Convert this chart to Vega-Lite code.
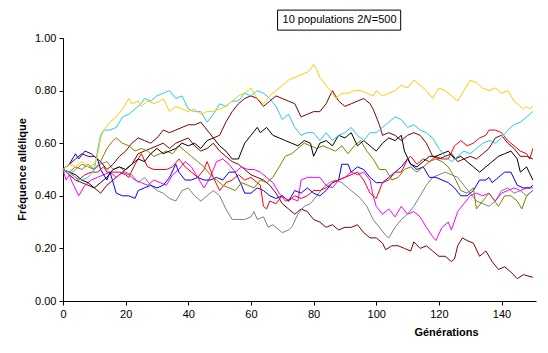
{
  "$schema": "https://vega.github.io/schema/vega-lite/v6.json",
  "width": 473,
  "height": 263,
  "autosize": {"type": "none"},
  "padding": {"left": 63, "top": 38, "right": 12, "bottom": 52},
  "background": "white",
  "config": {
    "view": {"stroke": null},
    "font": "Liberation Sans",
    "axis": {"labelFont": "Liberation Sans", "labelFontSize": 11, "labelColor": "black", "domainColor": "black", "tickColor": "black", "grid": false, "titleFont": "Liberation Sans", "titleFontSize": 11, "titleFontWeight": "bold", "titleColor": "black"}
  },
  "datasets": {
    "series": [
{"s":"p01","g":0,"v":0.50},{"s":"p01","g":2,"v":0.48},{"s":"p01","g":4,"v":0.46},{"s":"p01","g":6,"v":0.45},{"s":"p01","g":8,"v":0.44},{"s":"p01","g":10,"v":0.43},{"s":"p01","g":12,"v":0.41},{"s":"p01","g":14,"v":0.44},{"s":"p01","g":16,"v":0.46},{"s":"p01","g":18,"v":0.48},{"s":"p01","g":20,"v":0.50},{"s":"p01","g":22,"v":0.52},{"s":"p01","g":24,"v":0.56},{"s":"p01","g":26,"v":0.57},{"s":"p01","g":28,"v":0.58},{"s":"p01","g":30,"v":0.59},{"s":"p01","g":32,"v":0.60},{"s":"p01","g":34,"v":0.58},{"s":"p01","g":36,"v":0.60},{"s":"p01","g":38,"v":0.61},{"s":"p01","g":40,"v":0.62},{"s":"p01","g":42,"v":0.59},{"s":"p01","g":44,"v":0.57},{"s":"p01","g":46,"v":0.58},{"s":"p01","g":48,"v":0.60},{"s":"p01","g":50,"v":0.57},{"s":"p01","g":52,"v":0.55},{"s":"p01","g":54,"v":0.53},{"s":"p01","g":56,"v":0.52},{"s":"p01","g":58,"v":0.50},{"s":"p01","g":60,"v":0.48},{"s":"p01","g":62,"v":0.47},{"s":"p01","g":64,"v":0.46},{"s":"p01","g":66,"v":0.44},{"s":"p01","g":68,"v":0.41},{"s":"p01","g":70,"v":0.37},{"s":"p01","g":72,"v":0.35},{"s":"p01","g":74,"v":0.33},{"s":"p01","g":76,"v":0.35},{"s":"p01","g":78,"v":0.34},{"s":"p01","g":80,"v":0.31},{"s":"p01","g":82,"v":0.30},{"s":"p01","g":84,"v":0.28},{"s":"p01","g":86,"v":0.29},{"s":"p01","g":88,"v":0.27},{"s":"p01","g":90,"v":0.28},{"s":"p01","g":92,"v":0.28},{"s":"p01","g":94,"v":0.29},{"s":"p01","g":96,"v":0.26},{"s":"p01","g":98,"v":0.24},{"s":"p01","g":100,"v":0.24},{"s":"p01","g":102,"v":0.22},{"s":"p01","g":103,"v":0.195},{"s":"p01","g":105,"v":0.21},{"s":"p01","g":107,"v":0.21},{"s":"p01","g":109,"v":0.20},{"s":"p01","g":111,"v":0.19},{"s":"p01","g":112,"v":0.225},{"s":"p01","g":114,"v":0.20},{"s":"p01","g":116,"v":0.21},{"s":"p01","g":118,"v":0.19},{"s":"p01","g":120,"v":0.17},{"s":"p01","g":122,"v":0.17},{"s":"p01","g":124,"v":0.15},{"s":"p01","g":125,"v":0.16},{"s":"p01","g":126,"v":0.21},{"s":"p01","g":127.5,"v":0.24},{"s":"p01","g":129,"v":0.23},{"s":"p01","g":131,"v":0.22},{"s":"p01","g":133,"v":0.17},{"s":"p01","g":135,"v":0.19},{"s":"p01","g":137,"v":0.15},{"s":"p01","g":139,"v":0.12},{"s":"p01","g":141,"v":0.13},{"s":"p01","g":143,"v":0.11},{"s":"p01","g":145,"v":0.085},{"s":"p01","g":147,"v":0.10},{"s":"p01","g":150,"v":0.09},
{"s":"p02","g":0,"v":0.50},{"s":"p02","g":2,"v":0.48},{"s":"p02","g":4,"v":0.50},{"s":"p02","g":6,"v":0.52},{"s":"p02","g":8,"v":0.51},{"s":"p02","g":10,"v":0.50},{"s":"p02","g":12,"v":0.52},{"s":"p02","g":14,"v":0.53},{"s":"p02","g":16,"v":0.50},{"s":"p02","g":18,"v":0.51},{"s":"p02","g":20,"v":0.49},{"s":"p02","g":22,"v":0.48},{"s":"p02","g":24,"v":0.45},{"s":"p02","g":26,"v":0.47},{"s":"p02","g":28,"v":0.44},{"s":"p02","g":30,"v":0.42},{"s":"p02","g":32,"v":0.41},{"s":"p02","g":34,"v":0.39},{"s":"p02","g":36,"v":0.38},{"s":"p02","g":38,"v":0.42},{"s":"p02","g":40,"v":0.43},{"s":"p02","g":42,"v":0.40},{"s":"p02","g":44,"v":0.38},{"s":"p02","g":46,"v":0.40},{"s":"p02","g":48,"v":0.42},{"s":"p02","g":50,"v":0.40},{"s":"p02","g":52,"v":0.35},{"s":"p02","g":54,"v":0.31},{"s":"p02","g":56,"v":0.31},{"s":"p02","g":58,"v":0.31},{"s":"p02","g":60,"v":0.32},{"s":"p02","g":61,"v":0.34},{"s":"p02","g":62,"v":0.31},{"s":"p02","g":64,"v":0.32},{"s":"p02","g":65.5,"v":0.28},{"s":"p02","g":67,"v":0.29},{"s":"p02","g":69,"v":0.27},{"s":"p02","g":70,"v":0.26},{"s":"p02","g":72,"v":0.27},{"s":"p02","g":73,"v":0.28},{"s":"p02","g":75,"v":0.33},{"s":"p02","g":77,"v":0.36},{"s":"p02","g":79,"v":0.37},{"s":"p02","g":81,"v":0.40},{"s":"p02","g":83,"v":0.43},{"s":"p02","g":85,"v":0.45},{"s":"p02","g":87,"v":0.46},{"s":"p02","g":89,"v":0.45},{"s":"p02","g":91,"v":0.43},{"s":"p02","g":93,"v":0.41},{"s":"p02","g":95,"v":0.39},{"s":"p02","g":97,"v":0.36},{"s":"p02","g":99,"v":0.31},{"s":"p02","g":101,"v":0.28},{"s":"p02","g":103,"v":0.25},{"s":"p02","g":104,"v":0.24},{"s":"p02","g":106,"v":0.28},{"s":"p02","g":108,"v":0.31},{"s":"p02","g":110,"v":0.33},{"s":"p02","g":112,"v":0.36},{"s":"p02","g":114,"v":0.40},{"s":"p02","g":116,"v":0.44},{"s":"p02","g":118,"v":0.47},{"s":"p02","g":120,"v":0.48},{"s":"p02","g":122,"v":0.49},{"s":"p02","g":124,"v":0.48},{"s":"p02","g":126,"v":0.47},{"s":"p02","g":128,"v":0.44},{"s":"p02","g":130,"v":0.41},{"s":"p02","g":132,"v":0.38},{"s":"p02","g":134,"v":0.37},{"s":"p02","g":136,"v":0.36},{"s":"p02","g":138,"v":0.38},{"s":"p02","g":140,"v":0.42},{"s":"p02","g":142,"v":0.43},{"s":"p02","g":144,"v":0.41},{"s":"p02","g":146,"v":0.42},{"s":"p02","g":148,"v":0.40},{"s":"p02","g":150,"v":0.42},
{"s":"p03","g":0,"v":0.50},{"s":"p03","g":1,"v":0.46},{"s":"p03","g":2,"v":0.48},{"s":"p03","g":3,"v":0.45},{"s":"p03","g":5,"v":0.40},{"s":"p03","g":7,"v":0.44},{"s":"p03","g":9,"v":0.46},{"s":"p03","g":11,"v":0.47},{"s":"p03","g":13,"v":0.48},{"s":"p03","g":15,"v":0.49},{"s":"p03","g":17,"v":0.47},{"s":"p03","g":19,"v":0.49},{"s":"p03","g":21,"v":0.48},{"s":"p03","g":23,"v":0.46},{"s":"p03","g":25,"v":0.45},{"s":"p03","g":27,"v":0.44},{"s":"p03","g":29,"v":0.46},{"s":"p03","g":31,"v":0.45},{"s":"p03","g":33,"v":0.44},{"s":"p03","g":35,"v":0.48},{"s":"p03","g":37,"v":0.50},{"s":"p03","g":39,"v":0.53},{"s":"p03","g":41,"v":0.51},{"s":"p03","g":43,"v":0.47},{"s":"p03","g":45,"v":0.43},{"s":"p03","g":47,"v":0.47},{"s":"p03","g":49,"v":0.53},{"s":"p03","g":51,"v":0.54},{"s":"p03","g":53,"v":0.52},{"s":"p03","g":55,"v":0.49},{"s":"p03","g":57,"v":0.51},{"s":"p03","g":59,"v":0.50},{"s":"p03","g":61,"v":0.50},{"s":"p03","g":63,"v":0.49},{"s":"p03","g":65,"v":0.47},{"s":"p03","g":67,"v":0.45},{"s":"p03","g":69,"v":0.41},{"s":"p03","g":71,"v":0.38},{"s":"p03","g":73,"v":0.39},{"s":"p03","g":75,"v":0.38},{"s":"p03","g":76,"v":0.46},{"s":"p03","g":78,"v":0.47},{"s":"p03","g":80,"v":0.47},{"s":"p03","g":82,"v":0.47},{"s":"p03","g":84,"v":0.44},{"s":"p03","g":86,"v":0.43},{"s":"p03","g":88,"v":0.46},{"s":"p03","g":90,"v":0.47},{"s":"p03","g":92,"v":0.49},{"s":"p03","g":94,"v":0.48},{"s":"p03","g":96,"v":0.49},{"s":"p03","g":98,"v":0.46},{"s":"p03","g":99,"v":0.40},{"s":"p03","g":100,"v":0.36},{"s":"p03","g":102,"v":0.33},{"s":"p03","g":104,"v":0.35},{"s":"p03","g":106,"v":0.32},{"s":"p03","g":108,"v":0.36},{"s":"p03","g":110,"v":0.33},{"s":"p03","g":112,"v":0.34},{"s":"p03","g":114,"v":0.32},{"s":"p03","g":116,"v":0.28},{"s":"p03","g":118,"v":0.245},{"s":"p03","g":119,"v":0.23},{"s":"p03","g":121,"v":0.28},{"s":"p03","g":123,"v":0.30},{"s":"p03","g":124,"v":0.27},{"s":"p03","g":126,"v":0.34},{"s":"p03","g":128,"v":0.37},{"s":"p03","g":130,"v":0.40},{"s":"p03","g":132,"v":0.41},{"s":"p03","g":134,"v":0.40},{"s":"p03","g":136,"v":0.41},{"s":"p03","g":138,"v":0.38},{"s":"p03","g":140,"v":0.41},{"s":"p03","g":142,"v":0.42},{"s":"p03","g":144,"v":0.43},{"s":"p03","g":146,"v":0.42},{"s":"p03","g":148,"v":0.43},{"s":"p03","g":150,"v":0.43},
{"s":"p04","g":0,"v":0.50},{"s":"p04","g":2,"v":0.52},{"s":"p04","g":4,"v":0.56},{"s":"p04","g":5,"v":0.54},{"s":"p04","g":7,"v":0.57},{"s":"p04","g":9,"v":0.56},{"s":"p04","g":11,"v":0.54},{"s":"p04","g":12,"v":0.50},{"s":"p04","g":14,"v":0.46},{"s":"p04","g":15,"v":0.49},{"s":"p04","g":17,"v":0.41},{"s":"p04","g":19,"v":0.40},{"s":"p04","g":21,"v":0.40},{"s":"p04","g":23,"v":0.39},{"s":"p04","g":24,"v":0.42},{"s":"p04","g":26,"v":0.43},{"s":"p04","g":28,"v":0.44},{"s":"p04","g":30,"v":0.43},{"s":"p04","g":32,"v":0.44},{"s":"p04","g":34,"v":0.47},{"s":"p04","g":36,"v":0.52},{"s":"p04","g":37,"v":0.49},{"s":"p04","g":39,"v":0.46},{"s":"p04","g":41,"v":0.46},{"s":"p04","g":43,"v":0.47},{"s":"p04","g":45,"v":0.46},{"s":"p04","g":47,"v":0.46},{"s":"p04","g":49,"v":0.47},{"s":"p04","g":51,"v":0.46},{"s":"p04","g":53,"v":0.49},{"s":"p04","g":55,"v":0.49},{"s":"p04","g":57,"v":0.44},{"s":"p04","g":58,"v":0.41},{"s":"p04","g":60,"v":0.41},{"s":"p04","g":62,"v":0.43},{"s":"p04","g":64,"v":0.42},{"s":"p04","g":66,"v":0.40},{"s":"p04","g":68,"v":0.39},{"s":"p04","g":70,"v":0.40},{"s":"p04","g":72,"v":0.38},{"s":"p04","g":74,"v":0.42},{"s":"p04","g":76,"v":0.41},{"s":"p04","g":78,"v":0.43},{"s":"p04","g":80,"v":0.41},{"s":"p04","g":82,"v":0.40},{"s":"p04","g":84,"v":0.42},{"s":"p04","g":86,"v":0.45},{"s":"p04","g":88,"v":0.46},{"s":"p04","g":89,"v":0.52},{"s":"p04","g":91,"v":0.52},{"s":"p04","g":92,"v":0.49},{"s":"p04","g":94,"v":0.51},{"s":"p04","g":96,"v":0.50},{"s":"p04","g":98,"v":0.47},{"s":"p04","g":100,"v":0.45},{"s":"p04","g":102,"v":0.45},{"s":"p04","g":104,"v":0.47},{"s":"p04","g":106,"v":0.49},{"s":"p04","g":108,"v":0.51},{"s":"p04","g":110,"v":0.54},{"s":"p04","g":111,"v":0.52},{"s":"p04","g":113,"v":0.50},{"s":"p04","g":115,"v":0.51},{"s":"p04","g":117,"v":0.47},{"s":"p04","g":119,"v":0.47},{"s":"p04","g":121,"v":0.46},{"s":"p04","g":123,"v":0.45},{"s":"p04","g":125,"v":0.43},{"s":"p04","g":127,"v":0.40},{"s":"p04","g":129,"v":0.40},{"s":"p04","g":131,"v":0.42},{"s":"p04","g":133,"v":0.46},{"s":"p04","g":135,"v":0.46},{"s":"p04","g":136,"v":0.47},{"s":"p04","g":137,"v":0.45},{"s":"p04","g":139,"v":0.47},{"s":"p04","g":141,"v":0.49},{"s":"p04","g":143,"v":0.49},{"s":"p04","g":145,"v":0.44},{"s":"p04","g":147,"v":0.43},{"s":"p04","g":149,"v":0.43},{"s":"p04","g":150,"v":0.44},
{"s":"p05","g":0,"v":0.50},{"s":"p05","g":2,"v":0.49},{"s":"p05","g":4,"v":0.47},{"s":"p05","g":5,"v":0.46},{"s":"p05","g":7,"v":0.48},{"s":"p05","g":9,"v":0.49},{"s":"p05","g":11,"v":0.49},{"s":"p05","g":13,"v":0.51},{"s":"p05","g":14,"v":0.49},{"s":"p05","g":16,"v":0.49},{"s":"p05","g":18,"v":0.49},{"s":"p05","g":20,"v":0.48},{"s":"p05","g":21,"v":0.47},{"s":"p05","g":23,"v":0.52},{"s":"p05","g":25,"v":0.56},{"s":"p05","g":27,"v":0.51},{"s":"p05","g":29,"v":0.50},{"s":"p05","g":31,"v":0.50},{"s":"p05","g":33,"v":0.50},{"s":"p05","g":35,"v":0.51},{"s":"p05","g":37,"v":0.54},{"s":"p05","g":39,"v":0.51},{"s":"p05","g":41,"v":0.49},{"s":"p05","g":43,"v":0.47},{"s":"p05","g":45,"v":0.50},{"s":"p05","g":46,"v":0.53},{"s":"p05","g":48,"v":0.47},{"s":"p05","g":50,"v":0.42},{"s":"p05","g":52,"v":0.45},{"s":"p05","g":54,"v":0.46},{"s":"p05","g":56,"v":0.48},{"s":"p05","g":58,"v":0.46},{"s":"p05","g":60,"v":0.47},{"s":"p05","g":62,"v":0.45},{"s":"p05","g":63,"v":0.44},{"s":"p05","g":64,"v":0.36},{"s":"p05","g":65,"v":0.35},{"s":"p05","g":66,"v":0.38},{"s":"p05","g":68,"v":0.37},{"s":"p05","g":70,"v":0.40},{"s":"p05","g":72,"v":0.38},{"s":"p05","g":74,"v":0.40},{"s":"p05","g":76,"v":0.39},{"s":"p05","g":78,"v":0.40},{"s":"p05","g":80,"v":0.42},{"s":"p05","g":82,"v":0.42},{"s":"p05","g":84,"v":0.43},{"s":"p05","g":86,"v":0.45},{"s":"p05","g":88,"v":0.46},{"s":"p05","g":90,"v":0.47},{"s":"p05","g":92,"v":0.48},{"s":"p05","g":94,"v":0.49},{"s":"p05","g":96,"v":0.46},{"s":"p05","g":98,"v":0.41},{"s":"p05","g":100,"v":0.39},{"s":"p05","g":102,"v":0.45},{"s":"p05","g":104,"v":0.46},{"s":"p05","g":106,"v":0.49},{"s":"p05","g":108,"v":0.49},{"s":"p05","g":110,"v":0.54},{"s":"p05","g":111,"v":0.55},{"s":"p05","g":113,"v":0.52},{"s":"p05","g":115,"v":0.54},{"s":"p05","g":117,"v":0.53},{"s":"p05","g":119,"v":0.55},{"s":"p05","g":121,"v":0.54},{"s":"p05","g":123,"v":0.54},{"s":"p05","g":125,"v":0.59},{"s":"p05","g":127,"v":0.61},{"s":"p05","g":129,"v":0.59},{"s":"p05","g":131,"v":0.60},{"s":"p05","g":133,"v":0.62},{"s":"p05","g":135,"v":0.63},{"s":"p05","g":136,"v":0.65},{"s":"p05","g":138,"v":0.65},{"s":"p05","g":140,"v":0.64},{"s":"p05","g":142,"v":0.61},{"s":"p05","g":144,"v":0.59},{"s":"p05","g":146,"v":0.57},{"s":"p05","g":148,"v":0.56},{"s":"p05","g":149,"v":0.54},{"s":"p05","g":150,"v":0.58},
{"s":"p06","g":0,"v":0.50},{"s":"p06","g":2,"v":0.49},{"s":"p06","g":4,"v":0.51},{"s":"p06","g":6,"v":0.50},{"s":"p06","g":8,"v":0.52},{"s":"p06","g":10,"v":0.50},{"s":"p06","g":12,"v":0.53},{"s":"p06","g":14,"v":0.58},{"s":"p06","g":16,"v":0.61},{"s":"p06","g":17,"v":0.62},{"s":"p06","g":19,"v":0.60},{"s":"p06","g":21,"v":0.59},{"s":"p06","g":23,"v":0.57},{"s":"p06","g":25,"v":0.58},{"s":"p06","g":27,"v":0.57},{"s":"p06","g":29,"v":0.55},{"s":"p06","g":31,"v":0.56},{"s":"p06","g":33,"v":0.57},{"s":"p06","g":35,"v":0.56},{"s":"p06","g":37,"v":0.59},{"s":"p06","g":39,"v":0.57},{"s":"p06","g":41,"v":0.55},{"s":"p06","g":43,"v":0.53},{"s":"p06","g":45,"v":0.51},{"s":"p06","g":47,"v":0.48},{"s":"p06","g":49,"v":0.46},{"s":"p06","g":51,"v":0.44},{"s":"p06","g":53,"v":0.43},{"s":"p06","g":55,"v":0.42},{"s":"p06","g":57,"v":0.45},{"s":"p06","g":59,"v":0.44},{"s":"p06","g":61,"v":0.43},{"s":"p06","g":63,"v":0.46},{"s":"p06","g":65,"v":0.45},{"s":"p06","g":67,"v":0.47},{"s":"p06","g":69,"v":0.51},{"s":"p06","g":71,"v":0.55},{"s":"p06","g":73,"v":0.56},{"s":"p06","g":75,"v":0.58},{"s":"p06","g":77,"v":0.60},{"s":"p06","g":79,"v":0.59},{"s":"p06","g":81,"v":0.58},{"s":"p06","g":83,"v":0.59},{"s":"p06","g":85,"v":0.58},{"s":"p06","g":87,"v":0.57},{"s":"p06","g":89,"v":0.59},{"s":"p06","g":91,"v":0.56},{"s":"p06","g":93,"v":0.59},{"s":"p06","g":95,"v":0.61},{"s":"p06","g":97,"v":0.57},{"s":"p06","g":99,"v":0.54},{"s":"p06","g":101,"v":0.50},{"s":"p06","g":103,"v":0.50},{"s":"p06","g":105,"v":0.46},{"s":"p06","g":107,"v":0.47},{"s":"p06","g":109,"v":0.50},{"s":"p06","g":111,"v":0.51},{"s":"p06","g":113,"v":0.49},{"s":"p06","g":115,"v":0.51},{"s":"p06","g":117,"v":0.53},{"s":"p06","g":119,"v":0.54},{"s":"p06","g":121,"v":0.53},{"s":"p06","g":123,"v":0.51},{"s":"p06","g":125,"v":0.47},{"s":"p06","g":127,"v":0.42},{"s":"p06","g":129,"v":0.41},{"s":"p06","g":131,"v":0.43},{"s":"p06","g":132,"v":0.35},{"s":"p06","g":134,"v":0.38},{"s":"p06","g":136,"v":0.41},{"s":"p06","g":139,"v":0.36},{"s":"p06","g":141,"v":0.40},{"s":"p06","g":143,"v":0.40},{"s":"p06","g":145,"v":0.38},{"s":"p06","g":146.5,"v":0.35},{"s":"p06","g":148,"v":0.40},{"s":"p06","g":150,"v":0.42},
{"s":"p07","g":0,"v":0.50},{"s":"p07","g":2,"v":0.49},{"s":"p07","g":4,"v":0.48},{"s":"p07","g":6,"v":0.46},{"s":"p07","g":8,"v":0.45},{"s":"p07","g":10,"v":0.43},{"s":"p07","g":12,"v":0.45},{"s":"p07","g":14,"v":0.47},{"s":"p07","g":16,"v":0.50},{"s":"p07","g":18,"v":0.51},{"s":"p07","g":20,"v":0.50},{"s":"p07","g":22,"v":0.52},{"s":"p07","g":24,"v":0.54},{"s":"p07","g":26,"v":0.53},{"s":"p07","g":28,"v":0.56},{"s":"p07","g":30,"v":0.58},{"s":"p07","g":32,"v":0.56},{"s":"p07","g":34,"v":0.57},{"s":"p07","g":36,"v":0.58},{"s":"p07","g":38,"v":0.60},{"s":"p07","g":40,"v":0.59},{"s":"p07","g":42,"v":0.60},{"s":"p07","g":44,"v":0.58},{"s":"p07","g":46,"v":0.61},{"s":"p07","g":48,"v":0.62},{"s":"p07","g":50,"v":0.59},{"s":"p07","g":52,"v":0.57},{"s":"p07","g":54,"v":0.54},{"s":"p07","g":56,"v":0.54},{"s":"p07","g":58,"v":0.60},{"s":"p07","g":60,"v":0.63},{"s":"p07","g":62,"v":0.66},{"s":"p07","g":63,"v":0.64},{"s":"p07","g":65,"v":0.66},{"s":"p07","g":67,"v":0.63},{"s":"p07","g":69,"v":0.62},{"s":"p07","g":71,"v":0.61},{"s":"p07","g":73,"v":0.60},{"s":"p07","g":75,"v":0.59},{"s":"p07","g":77,"v":0.61},{"s":"p07","g":79,"v":0.60},{"s":"p07","g":80,"v":0.55},{"s":"p07","g":82,"v":0.60},{"s":"p07","g":84,"v":0.61},{"s":"p07","g":86,"v":0.59},{"s":"p07","g":88,"v":0.63},{"s":"p07","g":90,"v":0.62},{"s":"p07","g":92,"v":0.64},{"s":"p07","g":94,"v":0.59},{"s":"p07","g":96,"v":0.61},{"s":"p07","g":98,"v":0.59},{"s":"p07","g":100,"v":0.57},{"s":"p07","g":102,"v":0.60},{"s":"p07","g":104,"v":0.62},{"s":"p07","g":106,"v":0.61},{"s":"p07","g":108,"v":0.63},{"s":"p07","g":109,"v":0.57},{"s":"p07","g":111,"v":0.52},{"s":"p07","g":113,"v":0.51},{"s":"p07","g":115,"v":0.53},{"s":"p07","g":117,"v":0.55},{"s":"p07","g":119,"v":0.55},{"s":"p07","g":121,"v":0.56},{"s":"p07","g":123,"v":0.57},{"s":"p07","g":125,"v":0.54},{"s":"p07","g":127,"v":0.55},{"s":"p07","g":129,"v":0.53},{"s":"p07","g":131,"v":0.51},{"s":"p07","g":133,"v":0.49},{"s":"p07","g":135,"v":0.51},{"s":"p07","g":137,"v":0.53},{"s":"p07","g":139,"v":0.55},{"s":"p07","g":141,"v":0.56},{"s":"p07","g":143,"v":0.57},{"s":"p07","g":145,"v":0.54},{"s":"p07","g":146,"v":0.49},{"s":"p07","g":148,"v":0.51},{"s":"p07","g":150,"v":0.46},
{"s":"p08","g":0,"v":0.50},{"s":"p08","g":2,"v":0.52},{"s":"p08","g":4,"v":0.54},{"s":"p08","g":6,"v":0.56},{"s":"p08","g":8,"v":0.55},{"s":"p08","g":10,"v":0.55},{"s":"p08","g":12,"v":0.53},{"s":"p08","g":14,"v":0.50},{"s":"p08","g":16,"v":0.52},{"s":"p08","g":18,"v":0.55},{"s":"p08","g":20,"v":0.57},{"s":"p08","g":22,"v":0.60},{"s":"p08","g":24,"v":0.62},{"s":"p08","g":26,"v":0.61},{"s":"p08","g":28,"v":0.60},{"s":"p08","g":30,"v":0.62},{"s":"p08","g":32,"v":0.65},{"s":"p08","g":34,"v":0.64},{"s":"p08","g":36,"v":0.65},{"s":"p08","g":38,"v":0.66},{"s":"p08","g":40,"v":0.67},{"s":"p08","g":42,"v":0.67},{"s":"p08","g":44,"v":0.68},{"s":"p08","g":46,"v":0.65},{"s":"p08","g":48,"v":0.62},{"s":"p08","g":50,"v":0.63},{"s":"p08","g":52,"v":0.68},{"s":"p08","g":54,"v":0.72},{"s":"p08","g":56,"v":0.75},{"s":"p08","g":58,"v":0.77},{"s":"p08","g":60,"v":0.78},{"s":"p08","g":62,"v":0.77},{"s":"p08","g":64,"v":0.74},{"s":"p08","g":66,"v":0.76},{"s":"p08","g":68,"v":0.78},{"s":"p08","g":70,"v":0.77},{"s":"p08","g":72,"v":0.76},{"s":"p08","g":74,"v":0.75},{"s":"p08","g":76,"v":0.70},{"s":"p08","g":78,"v":0.71},{"s":"p08","g":80,"v":0.72},{"s":"p08","g":82,"v":0.72},{"s":"p08","g":84,"v":0.75},{"s":"p08","g":86,"v":0.80},{"s":"p08","g":87,"v":0.78},{"s":"p08","g":88,"v":0.76},{"s":"p08","g":90,"v":0.74},{"s":"p08","g":92,"v":0.75},{"s":"p08","g":94,"v":0.76},{"s":"p08","g":96,"v":0.77},{"s":"p08","g":98,"v":0.75},{"s":"p08","g":99,"v":0.73},{"s":"p08","g":100,"v":0.70},{"s":"p08","g":101,"v":0.67},{"s":"p08","g":102,"v":0.63},{"s":"p08","g":104,"v":0.64},{"s":"p08","g":106,"v":0.63},{"s":"p08","g":108,"v":0.61},{"s":"p08","g":110,"v":0.63},{"s":"p08","g":112,"v":0.64},{"s":"p08","g":114,"v":0.63},{"s":"p08","g":116,"v":0.60},{"s":"p08","g":118,"v":0.55},{"s":"p08","g":120,"v":0.54},{"s":"p08","g":122,"v":0.55},{"s":"p08","g":124,"v":0.56},{"s":"p08","g":126,"v":0.53},{"s":"p08","g":128,"v":0.54},{"s":"p08","g":130,"v":0.55},{"s":"p08","g":132,"v":0.54},{"s":"p08","g":134,"v":0.56},{"s":"p08","g":136,"v":0.58},{"s":"p08","g":138,"v":0.62},{"s":"p08","g":140,"v":0.63},{"s":"p08","g":142,"v":0.60},{"s":"p08","g":144,"v":0.58},{"s":"p08","g":146,"v":0.55},{"s":"p08","g":148,"v":0.55},{"s":"p08","g":150,"v":0.54},
{"s":"p09","g":0,"v":0.50},{"s":"p09","g":2,"v":0.49},{"s":"p09","g":4,"v":0.47},{"s":"p09","g":6,"v":0.46},{"s":"p09","g":8,"v":0.47},{"s":"p09","g":10,"v":0.50},{"s":"p09","g":11,"v":0.57},{"s":"p09","g":12,"v":0.63},{"s":"p09","g":13,"v":0.65},{"s":"p09","g":15,"v":0.65},{"s":"p09","g":17,"v":0.66},{"s":"p09","g":19,"v":0.70},{"s":"p09","g":21,"v":0.71},{"s":"p09","g":23,"v":0.73},{"s":"p09","g":25,"v":0.75},{"s":"p09","g":26,"v":0.77},{"s":"p09","g":28,"v":0.76},{"s":"p09","g":30,"v":0.78},{"s":"p09","g":32,"v":0.79},{"s":"p09","g":34,"v":0.80},{"s":"p09","g":36,"v":0.77},{"s":"p09","g":38,"v":0.78},{"s":"p09","g":40,"v":0.73},{"s":"p09","g":42,"v":0.72},{"s":"p09","g":44,"v":0.72},{"s":"p09","g":46,"v":0.68},{"s":"p09","g":48,"v":0.71},{"s":"p09","g":50,"v":0.75},{"s":"p09","g":52,"v":0.74},{"s":"p09","g":54,"v":0.76},{"s":"p09","g":56,"v":0.76},{"s":"p09","g":58,"v":0.79},{"s":"p09","g":60,"v":0.78},{"s":"p09","g":62,"v":0.80},{"s":"p09","g":64,"v":0.79},{"s":"p09","g":66,"v":0.77},{"s":"p09","g":68,"v":0.74},{"s":"p09","g":70,"v":0.69},{"s":"p09","g":72,"v":0.71},{"s":"p09","g":74,"v":0.66},{"s":"p09","g":76,"v":0.63},{"s":"p09","g":78,"v":0.64},{"s":"p09","g":80,"v":0.64},{"s":"p09","g":82,"v":0.61},{"s":"p09","g":84,"v":0.64},{"s":"p09","g":86,"v":0.61},{"s":"p09","g":88,"v":0.63},{"s":"p09","g":90,"v":0.64},{"s":"p09","g":92,"v":0.66},{"s":"p09","g":94,"v":0.63},{"s":"p09","g":96,"v":0.61},{"s":"p09","g":98,"v":0.64},{"s":"p09","g":100,"v":0.64},{"s":"p09","g":102,"v":0.66},{"s":"p09","g":104,"v":0.68},{"s":"p09","g":106,"v":0.70},{"s":"p09","g":108,"v":0.69},{"s":"p09","g":110,"v":0.66},{"s":"p09","g":112,"v":0.67},{"s":"p09","g":114,"v":0.65},{"s":"p09","g":116,"v":0.64},{"s":"p09","g":118,"v":0.62},{"s":"p09","g":120,"v":0.58},{"s":"p09","g":122,"v":0.55},{"s":"p09","g":124,"v":0.53},{"s":"p09","g":126,"v":0.55},{"s":"p09","g":128,"v":0.57},{"s":"p09","g":130,"v":0.56},{"s":"p09","g":132,"v":0.58},{"s":"p09","g":134,"v":0.60},{"s":"p09","g":136,"v":0.61},{"s":"p09","g":138,"v":0.60},{"s":"p09","g":140,"v":0.62},{"s":"p09","g":142,"v":0.65},{"s":"p09","g":144,"v":0.67},{"s":"p09","g":146,"v":0.68},{"s":"p09","g":148,"v":0.70},{"s":"p09","g":150,"v":0.72},
{"s":"p10","g":0,"v":0.50},{"s":"p10","g":2,"v":0.52},{"s":"p10","g":4,"v":0.51},{"s":"p10","g":6,"v":0.53},{"s":"p10","g":8,"v":0.51},{"s":"p10","g":10,"v":0.52},{"s":"p10","g":11,"v":0.55},{"s":"p10","g":12,"v":0.62},{"s":"p10","g":13,"v":0.65},{"s":"p10","g":15,"v":0.68},{"s":"p10","g":17,"v":0.70},{"s":"p10","g":19,"v":0.73},{"s":"p10","g":21,"v":0.77},{"s":"p10","g":22,"v":0.75},{"s":"p10","g":24,"v":0.76},{"s":"p10","g":25,"v":0.74},{"s":"p10","g":27,"v":0.76},{"s":"p10","g":29,"v":0.75},{"s":"p10","g":31,"v":0.76},{"s":"p10","g":32,"v":0.77},{"s":"p10","g":34,"v":0.72},{"s":"p10","g":36,"v":0.74},{"s":"p10","g":38,"v":0.73},{"s":"p10","g":40,"v":0.72},{"s":"p10","g":42,"v":0.73},{"s":"p10","g":44,"v":0.71},{"s":"p10","g":46,"v":0.72},{"s":"p10","g":48,"v":0.72},{"s":"p10","g":50,"v":0.73},{"s":"p10","g":52,"v":0.74},{"s":"p10","g":54,"v":0.76},{"s":"p10","g":56,"v":0.78},{"s":"p10","g":58,"v":0.79},{"s":"p10","g":60,"v":0.81},{"s":"p10","g":61,"v":0.79},{"s":"p10","g":62,"v":0.77},{"s":"p10","g":64,"v":0.75},{"s":"p10","g":66,"v":0.78},{"s":"p10","g":68,"v":0.80},{"s":"p10","g":70,"v":0.82},{"s":"p10","g":72,"v":0.84},{"s":"p10","g":74,"v":0.85},{"s":"p10","g":76,"v":0.86},{"s":"p10","g":78,"v":0.87},{"s":"p10","g":79,"v":0.88},{"s":"p10","g":80,"v":0.90},{"s":"p10","g":81,"v":0.88},{"s":"p10","g":82,"v":0.85},{"s":"p10","g":84,"v":0.82},{"s":"p10","g":86,"v":0.79},{"s":"p10","g":87,"v":0.77},{"s":"p10","g":89,"v":0.79},{"s":"p10","g":91,"v":0.79},{"s":"p10","g":93,"v":0.80},{"s":"p10","g":95,"v":0.80},{"s":"p10","g":97,"v":0.79},{"s":"p10","g":99,"v":0.78},{"s":"p10","g":100,"v":0.80},{"s":"p10","g":102,"v":0.78},{"s":"p10","g":104,"v":0.79},{"s":"p10","g":106,"v":0.80},{"s":"p10","g":108,"v":0.82},{"s":"p10","g":110,"v":0.81},{"s":"p10","g":112,"v":0.84},{"s":"p10","g":114,"v":0.82},{"s":"p10","g":116,"v":0.80},{"s":"p10","g":118,"v":0.77},{"s":"p10","g":120,"v":0.81},{"s":"p10","g":122,"v":0.80},{"s":"p10","g":124,"v":0.78},{"s":"p10","g":126,"v":0.76},{"s":"p10","g":128,"v":0.80},{"s":"p10","g":130,"v":0.84},{"s":"p10","g":132,"v":0.83},{"s":"p10","g":134,"v":0.81},{"s":"p10","g":136,"v":0.80},{"s":"p10","g":138,"v":0.81},{"s":"p10","g":140,"v":0.79},{"s":"p10","g":142,"v":0.80},{"s":"p10","g":144,"v":0.76},{"s":"p10","g":146,"v":0.74},{"s":"p10","g":147,"v":0.73},{"s":"p10","g":148,"v":0.74},{"s":"p10","g":149,"v":0.73},{"s":"p10","g":150,"v":0.74}
    ],
    "label": [{"t1": "10 populations 2", "t2": "N", "t3": "=500", "gx0": 68.5, "gx1": 107.8, "gm": 88.2, "vy0": 1.03, "vy1": 1.106, "vm": 1.068}]
  },
  "layer": [
    {
      "data": {"name": "series"},
      "mark": {"type": "line", "strokeWidth": 1, "interpolate": "linear"},
      "encoding": {
        "x": {"field": "g", "type": "quantitative", "scale": {"domain": [0, 151], "nice": false, "zero": false},
              "axis": {"values": [0,5,10,15,20,25,30,35,40,45,50,55,60,65,70,75,80,85,90,95,100,105,110,115,120,125,130,135,140,145,150],
                       "labelExpr": "datum.value % 20 === 0 ? datum.value : ''", "tickSize": 4, "labelPadding": 3, "labelFlush": false, "labelOverlap": false,
                       "title": "Générations", "titleX": 383, "titleY": 31, "titleAlign": "center", "titleBaseline": "middle"}},
        "y": {"field": "v", "type": "quantitative", "scale": {"domain": [0, 1], "nice": false},
              "axis": {"values": [0,0.1,0.2,0.3,0.4,0.5,0.6,0.7,0.8,0.9,1.0], "format": ".2f", "tickSize": 4, "labelPadding": 3,
                       "title": "Fréquence allélique", "titleX": -41, "titleY": 131, "titleAngle": -90, "titleAlign": "center", "titleBaseline": "middle"}},
        "color": {"field": "s", "type": "nominal", "legend": null,
                  "scale": {"domain": ["p01","p02","p03","p04","p05","p06","p07","p08","p09","p10"],
                            "range": ["#800000","#808080","#FF00FF","#0000FF","#FF0000","#808000","#000000","#800000","#22CCEE","#FFCC00"]}}
      }
    },
    {
      "data": {"name": "label"},
      "mark": {"type": "rect", "fill": "white", "stroke": "black", "strokeWidth": 1, "clip": false},
      "encoding": {
        "x": {"field": "gx0", "type": "quantitative"},
        "x2": {"field": "gx1"},
        "y": {"field": "vy0", "type": "quantitative"},
        "y2": {"field": "vy1"}
      }
    },
    {
      "data": {"name": "label"},
      "mark": {"type": "text", "fontSize": 11, "font": "Liberation Sans", "color": "black", "clip": false, "align": "right", "baseline": "middle", "dx": 24},
      "encoding": {
        "x": {"field": "gm", "type": "quantitative"},
        "y": {"field": "vm", "type": "quantitative"},
        "text": {"field": "t1"}
      }
    },
    {
      "data": {"name": "label"},
      "mark": {"type": "text", "fontSize": 11, "font": "Liberation Sans", "fontStyle": "italic", "color": "black", "clip": false, "align": "left", "baseline": "middle", "dx": 24},
      "encoding": {
        "x": {"field": "gm", "type": "quantitative"},
        "y": {"field": "vm", "type": "quantitative"},
        "text": {"field": "t2"}
      }
    },
    {
      "data": {"name": "label"},
      "mark": {"type": "text", "fontSize": 11, "font": "Liberation Sans", "color": "black", "clip": false, "align": "left", "baseline": "middle", "dx": 32.5},
      "encoding": {
        "x": {"field": "gm", "type": "quantitative"},
        "y": {"field": "vm", "type": "quantitative"},
        "text": {"field": "t3"}
      }
    }
  ]
}
